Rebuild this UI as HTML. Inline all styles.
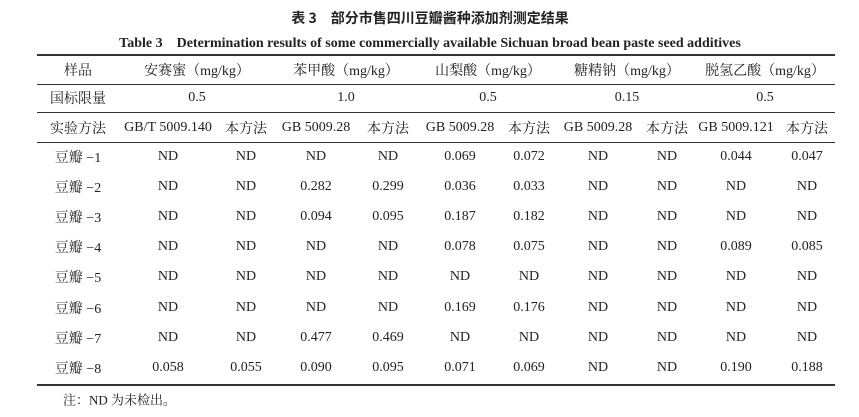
<!DOCTYPE html>
<html><head><meta charset="utf-8"><style>
body{margin:0;width:859px;height:417px;background:#fff;position:relative;overflow:hidden;font-family:"Liberation Serif","Noto Serif CJK SC","Noto Sans CJK SC",serif;color:#222;}
.t{position:absolute;white-space:nowrap;transform:translate(-50%,-50%);font-size:14px;}
.l{position:absolute;left:37px;width:798px;height:1px;background:#333;}
.cjk{font-family:"Noto Sans CJK SC",sans-serif;}
</style></head><body>
<div class="t cjk" style="left:430px;top:18px;font-weight:bold;font-size:14px">表 3　部分市售四川豆瓣酱种添加剂测定结果</div>
<div class="t" style="left:430px;top:42px;font-weight:bold;font-size:14px">Table 3　Determination results of some commercially available Sichuan broad bean paste seed additives</div>
<div class="l" style="top:54px;height:2px"></div>
<div class="l" style="top:84px"></div>
<div class="l" style="top:112px"></div>
<div class="l" style="top:142px"></div>
<div class="l" style="top:384px;height:2px"></div>
<div id="c"></div>
<div class="t" style="left:63px;top:399px;transform:translate(0,-50%);font-size:13px">注：ND 为未检出。</div>
<script>
var c=document.getElementById('c'),h='';
function p(x,y,s){h+='<div class="t" style="left:'+x+'px;top:'+y+'px">'+s+'</div>';}
p(78,70,'样品');p(197,70,'安赛蜜（mg/kg）');p(346,70,'苯甲酸（mg/kg）');p(488,70,'山梨酸（mg/kg）');p(627,70,'糖精钠（mg/kg）');p(765,70,'脱氢乙酸（mg/kg）');
p(78,98,'国标限量');p(197,98,'0.5');p(346,98,'1.0');p(488,98,'0.5');p(627,98,'0.15');p(765,98,'0.5');
var xs=[168,246,316,388,460,529,598,667,736,807];
var m=['GB/T 5009.140','本方法','GB 5009.28','本方法','GB 5009.28','本方法','GB 5009.28','本方法','GB 5009.121','本方法'];
p(78,128,'实验方法');m.forEach(function(s,i){p(xs[i],128,s);});
var d=[
['ND','ND','ND','ND','0.069','0.072','ND','ND','0.044','0.047'],
['ND','ND','0.282','0.299','0.036','0.033','ND','ND','ND','ND'],
['ND','ND','0.094','0.095','0.187','0.182','ND','ND','ND','ND'],
['ND','ND','ND','ND','0.078','0.075','ND','ND','0.089','0.085'],
['ND','ND','ND','ND','ND','ND','ND','ND','ND','ND'],
['ND','ND','ND','ND','0.169','0.176','ND','ND','ND','ND'],
['ND','ND','0.477','0.469','ND','ND','ND','ND','ND','ND'],
['0.058','0.055','0.090','0.095','0.071','0.069','ND','ND','0.190','0.188']];
d.forEach(function(r,j){var y=157+j*30.1;p(78,y,'豆瓣 −'+(j+1));r.forEach(function(s,i){p(xs[i],y,s);});});
c.innerHTML=h;
</script>
</body></html>
